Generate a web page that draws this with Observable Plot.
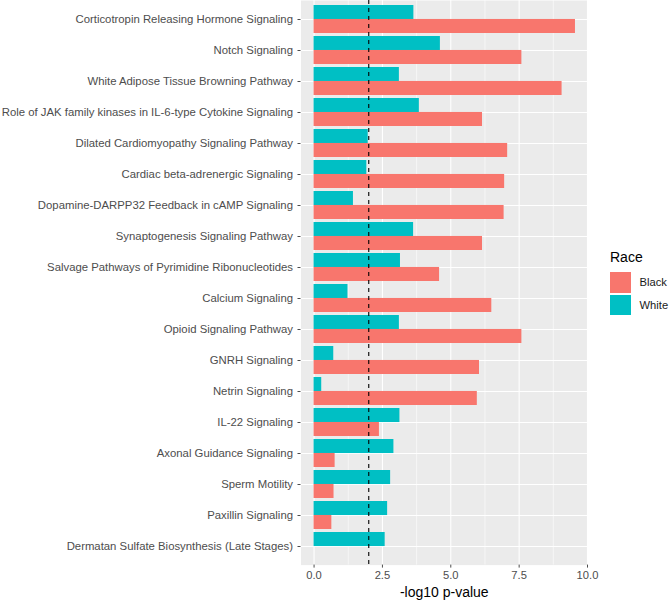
<!DOCTYPE html>
<html>
<head>
<meta charset="utf-8">
<script src="https://cdn.jsdelivr.net/npm/d3@7"></script>
<script src="https://cdn.jsdelivr.net/npm/@observablehq/plot@0.6"></script>
<style>
  html, body { margin: 0; padding: 0; background: #fff; }
  #wrap { position: relative; width: 669px; height: 601px; font-family: "Liberation Sans", Arial, sans-serif; }
  #legend { position: absolute; left: 610px; top: 247px; color: #000; }
  #legend .title { font-size: 14px; line-height: 20px; margin-bottom: 4px; }
  #legend .row { display: flex; align-items: center; height: 22.5px; }
  #legend .sw { width: 21px; height: 20.5px; margin-right: 8.5px; }
  #legend .lab { font-size: 11.2px; color: #1a1a1a; white-space: nowrap; }
</style>
</head>
<body>
<div id="wrap"></div>
<script>
const pathways = [
  "Corticotropin Releasing Hormone Signaling",
  "Notch Signaling",
  "White Adipose Tissue Browning Pathway",
  "Role of JAK family kinases in IL-6-type Cytokine Signaling",
  "Dilated Cardiomyopathy Signaling Pathway",
  "Cardiac beta-adrenergic Signaling",
  "Dopamine-DARPP32 Feedback in cAMP Signaling",
  "Synaptogenesis Signaling Pathway",
  "Salvage Pathways of Pyrimidine Ribonucleotides",
  "Calcium Signaling",
  "Opioid Signaling Pathway",
  "GNRH Signaling",
  "Netrin Signaling",
  "IL-22 Signaling",
  "Axonal Guidance Signaling",
  "Sperm Motility",
  "Paxillin Signaling",
  "Dermatan Sulfate Biosynthesis (Late Stages)"
];
const blackValues = [9.56, 7.60, 9.07, 6.16, 7.08, 6.97, 6.95, 6.16, 4.59, 6.50, 7.60, 6.05, 5.97, 2.39, 0.77, 0.73, 0.65, 0];
const whiteValues = [3.65, 4.62, 3.12, 3.85, 1.98, 1.93, 1.44, 3.64, 3.16, 1.24, 3.12, 0.72, 0.28, 3.14, 2.92, 2.80, 2.69, 2.60];
const races = ["Black", "White"];
const raceColors = ["#F8766D", "#00BFC4"];
const xTicks = [0, 2.5, 5, 7.5, 10];
const xMinorTicks = [1.25, 3.75, 6.25, 8.75];
const threshold = [2];
const xLabel = "-log10 p-value";

const blackData = pathways.map((p, i) => ({pathway: p, race: "Black", value: blackValues[i]}));
const whiteData = pathways.map((p, i) => ({pathway: p, race: "White", value: whiteValues[i]}));

const W = 669, H = 601;
const mt = 0, mb = 36.4, ml = 300.5, mr = 82;
const padInner = 0.1, padOuter = 0.15;
const step = (H - mt - mb) / (pathways.length - padInner + 2 * padOuter);
const half = step * (1 - padInner) / 2;

const chart = Plot.plot({
  width: W,
  height: H,
  marginTop: mt,
  marginBottom: mb,
  marginLeft: ml,
  marginRight: mr,
  style: {fontFamily: "'Liberation Sans', Arial, sans-serif", background: "transparent"},
  x: {domain: [-0.478, 10.0], ticks: xTicks, tickFormat: d3.format(".1f")},
  y: {domain: pathways, paddingInner: padInner, paddingOuter: padOuter, align: 0.5},
  marks: [
    Plot.frame({fill: "#EBEBEB", stroke: null}),
    Plot.gridX(xMinorTicks, {stroke: "#fff", strokeOpacity: 1, strokeWidth: 0.55}),
    Plot.gridX(xTicks, {stroke: "#fff", strokeOpacity: 1, strokeWidth: 1.1}),
    Plot.gridY({stroke: "#fff", strokeOpacity: 1, strokeWidth: 1.1}),
    Plot.barX(whiteData, {x: "value", y: "pathway", fill: raceColors[1], insetBottom: half, insetTop: 0}),
    Plot.barX(blackData, {x: "value", y: "pathway", fill: raceColors[0], insetTop: half, insetBottom: 0}),
    Plot.ruleX(threshold, {stroke: "#000", strokeWidth: 1.1, strokeDasharray: "4,4"}),
    Plot.axisY({tickSize: 3, tickPadding: 5, fontSize: 11.35, color: "#4D4D4D", label: null}),
    Plot.axisX({ticks: xTicks, tickFormat: d3.format(".1f"), tickSize: 3, tickPadding: 3, fontSize: 11.2, color: "#4D4D4D", label: null}),
    Plot.text([xLabel], {frameAnchor: "bottom", dy: 27.5, fontSize: 14, fill: "#000", lineAnchor: "middle"})
  ]
});

const wrap = document.getElementById("wrap");
wrap.appendChild(chart);

const legend = document.createElement("div");
legend.id = "legend";
const t = document.createElement("div");
t.className = "title";
t.textContent = "Race";
legend.appendChild(t);
races.forEach((r, i) => {
  const row = document.createElement("div");
  row.className = "row";
  const sw = document.createElement("div");
  sw.className = "sw";
  sw.style.background = raceColors[i];
  const lab = document.createElement("div");
  lab.className = "lab";
  lab.textContent = r;
  row.appendChild(sw);
  row.appendChild(lab);
  legend.appendChild(row);
});
wrap.appendChild(legend);
</script>
</body>
</html>
